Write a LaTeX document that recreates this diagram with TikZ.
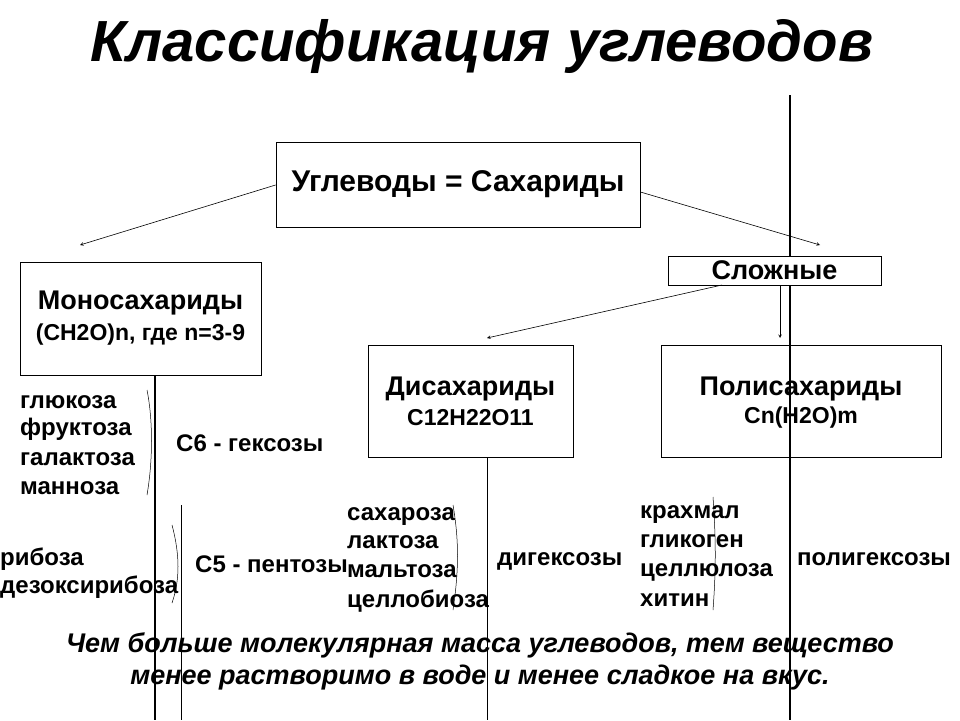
\documentclass[tikz,border=0pt]{standalone}
\usepackage{fontspec}
\setmainfont{Liberation Sans}
\begin{document}
\begin{tikzpicture}[x=1pt,y=-1pt,
  box/.style={draw,line width=0.8pt,fill=white,inner sep=0pt},
  arr/.style={-stealth,line width=0.6pt},
  vl/.style={line width=1.4pt},
  thin/.style={line width=0.5pt},
  item/.style={anchor=base west,font=\bfseries\fontsize{24}{26}\selectfont,inner sep=0pt},
  bt/.style={font=\bfseries\fontsize{27}{30}\selectfont,align=center},
  st/.style={font=\bfseries\fontsize{23}{26}\selectfont}]
\useasboundingbox[fill=white] (0,0) rectangle (960,720);
\node[font=\bfseries\itshape\fontsize{58}{64}\selectfont] (title) at (482,47) {Классификация углеводов};
% vertical lines
\coordinate (v1a) at (790,95); \coordinate (v1b) at (790,720);
\draw[vl] (v1a) -- (v1b);
\coordinate (v2a) at (155,375); \coordinate (v2b) at (155,720);
\draw[vl] (v2a) -- (v2b);
\coordinate (v3a) at (487,457); \coordinate (v3b) at (487,720);
\draw[line width=0.9pt] (v3a) -- (v3b);
\coordinate (v4a) at (181,505); \coordinate (v4b) at (181,720);
\draw[line width=0.9pt] (v4a) -- (v4b);
% boxes
\node[box,minimum width=364,minimum height=85,font=\bfseries\fontsize{30}{32}\selectfont] (top) at (458,184.5) {Углеводы = Сахариды};
\node[box,minimum width=241,minimum height=113] (mono) at (140.5,318.5) {};
\node[bt] at (140.5,303) {Моносахариды};
\node[st] at (140.5,335) {(CH2O)n, где n=3-9};
\node[box,minimum width=213,minimum height=29,bt] (slo) at (774.5,270.5) {Сложные};
\node[box,minimum width=205,minimum height=112] (di) at (470.5,401) {};
\node[bt] at (470.5,389) {Дисахариды};
\node[st] at (470.5,418) {C12H22O11};
\node[box,minimum width=280,minimum height=112] (poly) at (801,401) {};
\node[bt] at (801,389) {Полисахариды};
\node[st] at (801,418) {Cn(H2O)m};
\draw[vl] (790,345) -- (790,457);
% arrows
\coordinate (m1) at (80,245); \coordinate (s1) at (820,245);
\draw[arr] (top.west |- 0,185) -- (m1);
\draw[arr] (top.east |- 0,192) -- (s1);
\coordinate (d1) at (487,338); \coordinate (p1) at (780,338);
\draw[arr] (722,285) -- (d1);
\draw[arr] (780,285) -- (p1);
% lists
\foreach \t/\y in {глюкоза/398,фруктоза/425,галактоза/455,манноза/484}
  \node[item] at (20,\y+10) {\t};
\node[item] at (176,451) {C6 - гексозы};
\node[item] at (0,565) {рибоза};
\node[item] at (0,593) {дезоксирибоза};
\node[item] at (195,572) {C5 - пентозы};
\foreach \t/\y in {сахароза/510,лактоза/538,мальтоза/567,целлобиоза/597}
  \node[item] at (347,\y+10) {\t};
\node[item] at (497,565) {дигексозы};
\foreach \t/\y in {крахмал/508,гликоген/537,целлюлоза/566,хитин/596}
  \node[item] at (640,\y+10) {\t};
\node[item] at (797,565) {полигексозы};
% braces
\draw[thin] (147,390) .. controls (153,420) and (153,460) .. (147,495);
\draw[thin] (172,525) .. controls (180,555) and (180,580) .. (172,603);
\draw[thin] (453,505) .. controls (459,540) and (459,570) .. (453,610);
\draw[thin] (713,497) .. controls (716,540) and (716,570) .. (713,610);
% bottom text
\node[font=\bfseries\itshape\fontsize{27}{32}\selectfont,align=center] (note) at (480,661) {Чем больше молекулярная масса углеводов, тем вещество\\менее растворимо в воде и менее сладкое на вкус.};
\end{tikzpicture}
\end{document}
